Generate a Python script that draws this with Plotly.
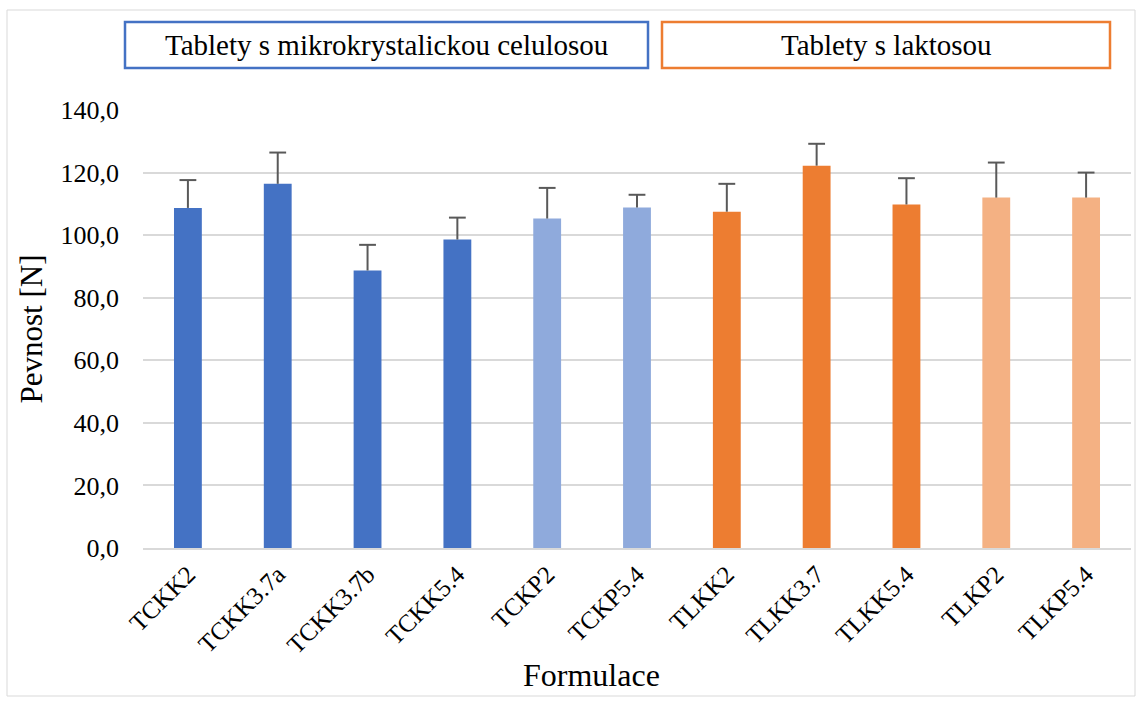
import plotly.graph_objects as go

categories = ["TCKK2", "TCKK3.7a", "TCKK3.7b", "TCKK5.4", "TCKP2", "TCKP5.4",
              "TLKK2", "TLKK3.7", "TLKK5.4", "TLKP2", "TLKP5.4"]
pevnost = [108.7, 116.4, 88.7, 98.6, 105.3, 108.8, 107.5, 122.2, 109.8, 112.0, 112.0]
sd = [8.9, 10.0, 8.2, 7.0, 9.8, 4.1, 8.9, 7.0, 8.4, 11.2, 8.0]
groups = ["CK", "CK", "CK", "CK", "CP", "CP", "LK", "LK", "LK", "LP", "LP"]
group_labels = ["Tablety s mikrokrystalickou celulosou", "Tablety s laktosou"]

palette = {"CK": "#4472C4", "CP": "#8FAADC", "LK": "#ED7D31", "LP": "#F4B183"}
colors = [palette[g] for g in groups]

FONT = "Liberation Serif"
ERR = "#595959"

fig = go.Figure()
fig.add_trace(go.Bar(
    x=categories, y=pevnost,
    marker=dict(color=colors, line=dict(width=0)),
    showlegend=False, hoverinfo="x+y",
))

# upward-only error bars (stem + cap)
ex, ey = [], []
for c, v, s in zip(categories, pevnost, sd):
    ex += [c, c, None]
    ey += [v, v + s, None]
fig.add_trace(go.Scatter(x=ex, y=ey, mode="lines", line=dict(color=ERR, width=2),
                         showlegend=False, hoverinfo="skip"))
fig.add_trace(go.Scatter(x=categories, y=[v + s for v, s in zip(pevnost, sd)],
                         mode="markers",
                         marker=dict(symbol="line-ew", size=12, color=ERR,
                                     line=dict(color=ERR, width=2)),
                         showlegend=False, hoverinfo="skip"))

W, H = 1142, 703
ml, mr, mt, mb = 143, 11, 110, 155
PW, PH = W - ml - mr, H - mt - mb

fig.update_layout(
    width=W, height=H,
    margin=dict(l=ml, r=mr, t=mt, b=mb, autoexpand=False),
    plot_bgcolor="white", paper_bgcolor="white",
    separators=", ",
    bargap=0.69,
    font=dict(family=FONT, color="black"),
    xaxis=dict(
        range=[-0.5, len(categories) - 0.5],
        tickangle=-45, tickfont=dict(size=25, family=FONT, color="black"),
        showline=True, linecolor="#D9D9D9", linewidth=1.5,
        ticks="", showgrid=False, automargin=False,
    ),
    yaxis=dict(
        range=[0, 140], dtick=20, tickformat=".1f",
        tickfont=dict(size=26, family=FONT, color="black"),
        showgrid=True, gridcolor="#D9D9D9", gridwidth=1.5,
        zeroline=False, showline=False, ticks="", automargin=False,
        ticklabelstandoff=23,
        title=dict(text="Pevnost [N]", font=dict(size=31, family=FONT, color="black"), standoff=8),
    ),
)

# x axis title (offset left of plot centre, as in the original)
fig.add_annotation(xref="paper", yref="paper", x=(591 - ml) / PW, y=(H - mb - 675) / PH,
                   text="Formulace", showarrow=False,
                   font=dict(size=32, family=FONT, color="black"),
                   xanchor="center", yanchor="middle")

# outer chart border
fig.add_shape(type="rect", xref="paper", yref="paper",
              x0=(7 - ml) / PW, x1=(1135 - ml) / PW,
              y0=(H - mb - 696) / PH, y1=(H - mb - 10) / PH,
              line=dict(color="#D9D9D9", width=1), layer="below")

# group label boxes
boxes = [(125, 648, "#4472C4"), (662, 1110, "#ED7D31")]
for (x0, x1, col), label in zip(boxes, group_labels):
    px0 = (x0 - ml) / PW
    px1 = (x1 - ml) / PW
    py0 = (H - mb - 68) / PH
    py1 = (H - mb - 22) / PH
    fig.add_shape(type="rect", xref="paper", yref="paper",
                  x0=px0, x1=px1, y0=py0, y1=py1,
                  line=dict(color=col, width=2.5), fillcolor="white")
    fig.add_annotation(xref="paper", yref="paper", x=(px0 + px1) / 2, y=(py0 + py1) / 2,
                       text=label, showarrow=False,
                       font=dict(size=29, family=FONT, color="black"),
                       xanchor="center", yanchor="middle")

fig.write_html("out.html", config={"displayModeBar": False},
               post_script="document.body.style.margin='0';")
